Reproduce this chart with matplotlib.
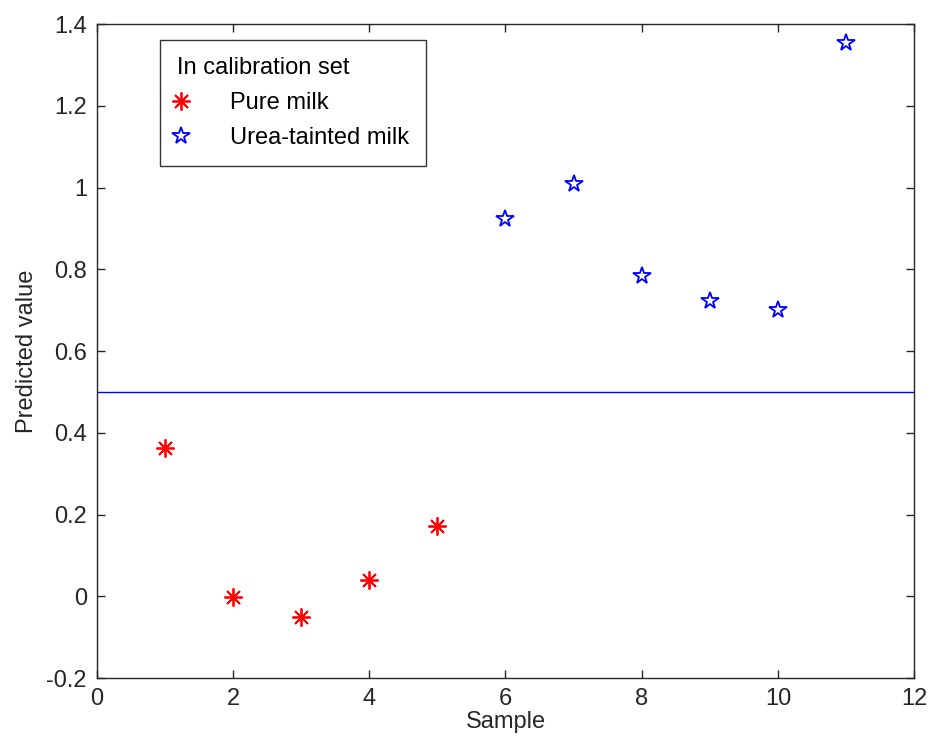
import matplotlib
matplotlib.use('Agg')
import matplotlib.pyplot as plt
from matplotlib.ticker import FuncFormatter

plt.rcParams['font.family'] = ['Liberation Sans', 'DejaVu Sans']

# predictions for the calibration samples
pure_x = [1, 2, 3, 4, 5]
pure_y = [0.363, -0.002, -0.05, 0.04, 0.172]
urea_x = [6, 7, 8, 9, 10, 11]
urea_y = [0.923, 1.009, 0.783, 0.722, 0.70, 1.353]
threshold = 0.5

xticks = [0, 2, 4, 6, 8, 10, 12]
yticks = [-0.2, 0, 0.2, 0.4, 0.6, 0.8, 1.0, 1.2, 1.4]

fs = 17

fig = plt.figure(figsize=(9.3, 7.41), dpi=100)
ax = fig.add_axes([0.104, 0.085, 0.879, 0.8826])

ax.plot(pure_x, pure_y, linestyle='none', marker=(8, 2, 0), markersize=13,
        markeredgewidth=1.3, color='#ff0000', label='Pure milk')
ax.plot(urea_x, urea_y, linestyle='none', marker='*', markersize=13,
        markeredgewidth=1.3, markerfacecolor='none', markeredgecolor='#0000ff',
        label='Urea-tainted milk')
ax.axhline(threshold, color='#0000ff', linewidth=1)

ax.set_xlim(0, 12)
ax.set_ylim(-0.2, 1.4)
ax.set_xticks(xticks)
ax.set_yticks(yticks)
ax.yaxis.set_major_formatter(FuncFormatter(lambda v, p: '%g' % round(v, 2)))
ax.tick_params(direction='in', top=True, right=True, length=6, width=1,
               labelsize=fs, colors='#262626', pad=7)
for s in ax.spines.values():
    s.set_color('#262626')
    s.set_linewidth(1)

ax.set_xlabel('Sample', fontsize=fs, color='#262626', labelpad=1)
ax.set_ylabel('Predicted value', fontsize=fs, color='#262626', labelpad=6)

leg = ax.legend(loc='upper left', bbox_to_anchor=(0.078, 0.9755), borderaxespad=0,
                title='In calibration set', alignment='left', fontsize=fs,
                title_fontsize=fs, frameon=True, fancybox=False, edgecolor='black',
                handlelength=0.3, handletextpad=1.95, borderpad=0.7, labelspacing=0.57)
leg.get_frame().set_linewidth(1)

fig.savefig('out.png', dpi=100)
